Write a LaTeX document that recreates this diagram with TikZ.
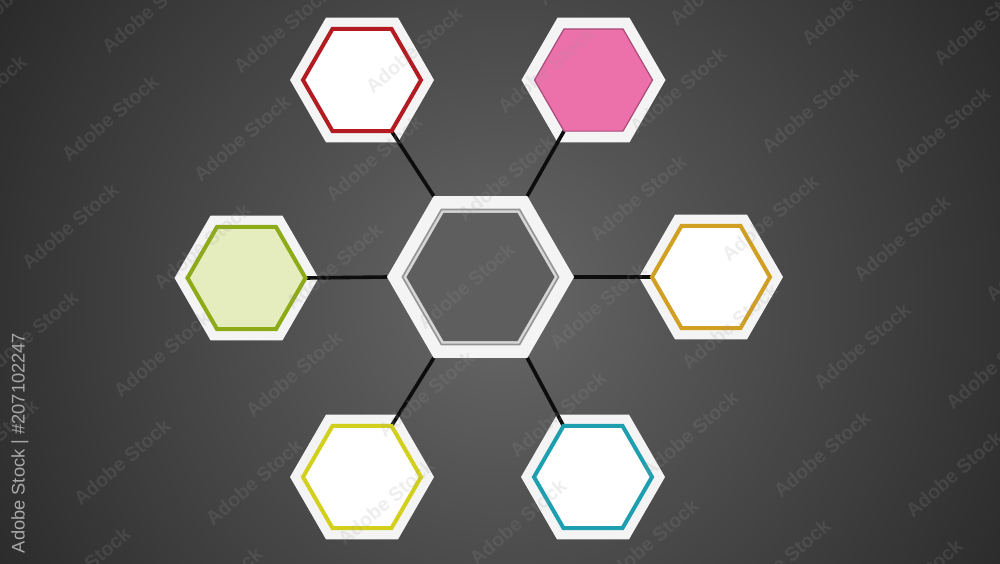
\documentclass[tikz,border=0pt]{standalone}
\usepackage{fontspec}
\setmainfont{Liberation Sans}
\usetikzlibrary{shapes.geometric}
\usetikzlibrary{positioning}
\definecolor{bgin}{HTML}{676767}
\definecolor{bgout}{HTML}{262626}
\definecolor{platewhite}{HTML}{F4F4F4}
\definecolor{hexcore}{HTML}{5E5E5E}
\definecolor{hexred}{HTML}{B31B22}
\definecolor{hexpink}{HTML}{EC70AA}
\definecolor{pinkedge}{HTML}{A84B78}
\definecolor{greenfill}{HTML}{E5ECBD}
\definecolor{hexgreen}{HTML}{8DAA17}
\definecolor{hexgold}{HTML}{D19F22}
\definecolor{hexyellow}{HTML}{D3D01D}
\definecolor{hexteal}{HTML}{1E9FB0}
\definecolor{idgray}{HTML}{A8A8A8}
\pgfdeclarelayer{plates}
\pgfdeclarelayer{links}
\pgfsetlayers{plates,links,main}
\tikzset{basic hex/.style={regular polygon, regular polygon sides=6, inner sep=0pt, outer sep=0pt}}
\tikzset{plate/.style={basic hex, fill=platewhite, minimum size=36mm}}
\tikzset{ring/.style={basic hex, minimum size=29.5mm}}
\tikzset{edge/.style={draw,
                      line width=0.9mm,
                      black!95}}

\begin{document}
\begin{tikzpicture}
    [
      x=0.25mm, y=-0.25mm,
      watermark/.style = {text=black!40, opacity=0.16, font=\fontsize{14}{14}\selectfont\bfseries, rotate=41},
    ]
    \useasboundingbox (0,0) rectangle (1000,563);

    \begin{pgfonlayer}{plates}
      % background
      \begin{scope}
        \clip (0,0) rectangle (1000,563);
        \shade[inner color=bgin, outer color=bgout] (500,300) circle (155mm);
      \end{scope}

      % white plates
      \node [plate, minimum size=46.75mm] (hexC) at (480.5,277) {};
      \foreach \n/\p in {TL/{362,80},TR/{593.5,80},L/{246.5,278},R/{711,277},BL/{362,477},BR/{593,477}}
        \node [plate] (plate\n) at (\p) {};
    \end{pgfonlayer}

    % centre hexagon
    \node [basic hex, minimum size=39.5mm, fill=black!42] (hexCbevel) at (hexC) {};
    \node [basic hex, minimum size=38.5mm, fill=black!16] (hexCrim) at (hexC) {};
    \node [basic hex, minimum size=37mm, fill=hexcore] (hexCcore) at (hexC) {};

    % coloured rings
    \foreach \n/\c/\f/\w in {TL/hexred/white/1mm,TR/pinkedge/hexpink/0.3mm,L/hexgreen/greenfill/1mm,R/hexgold/white/1mm,BL/hexyellow/white/1mm,BR/hexteal/white/1mm}
      \node [ring, draw=\c, fill=\f, line width=\w] (ring\n) at (plate\n) {};

    % links
    \begin{pgfonlayer}{links}
      \draw [edge] (hexC.120) -- (ringTL.300);
      \draw [edge] (hexC.60)  -- (ringTR.240);
      \draw [edge] (hexC.180) -- (ringL.0);
      \draw [edge] (hexC.0)   -- (ringR.180);
      \draw [edge] (hexC.240) -- (ringBL.60);
      \draw [edge] (hexC.300) -- (ringBR.120);
    \end{pgfonlayer}

    % watermark
    \begin{scope}
      \clip (0,0) rectangle (1000,563);
      \foreach \i in {0,...,9}
        \foreach \j in {0,...,6}
          \node [watermark] (wm\i\j) at ({58+132*\i-40*\j},{-118+20*\i+108*\j}) {Adobe Stock};
    \end{scope}
    \node [text=idgray, font=\fontsize{13}{13}\selectfont, rotate=90] (stockid) at (20,443) {Adobe Stock | \#207102247};

  \end{tikzpicture}
\end{document}
